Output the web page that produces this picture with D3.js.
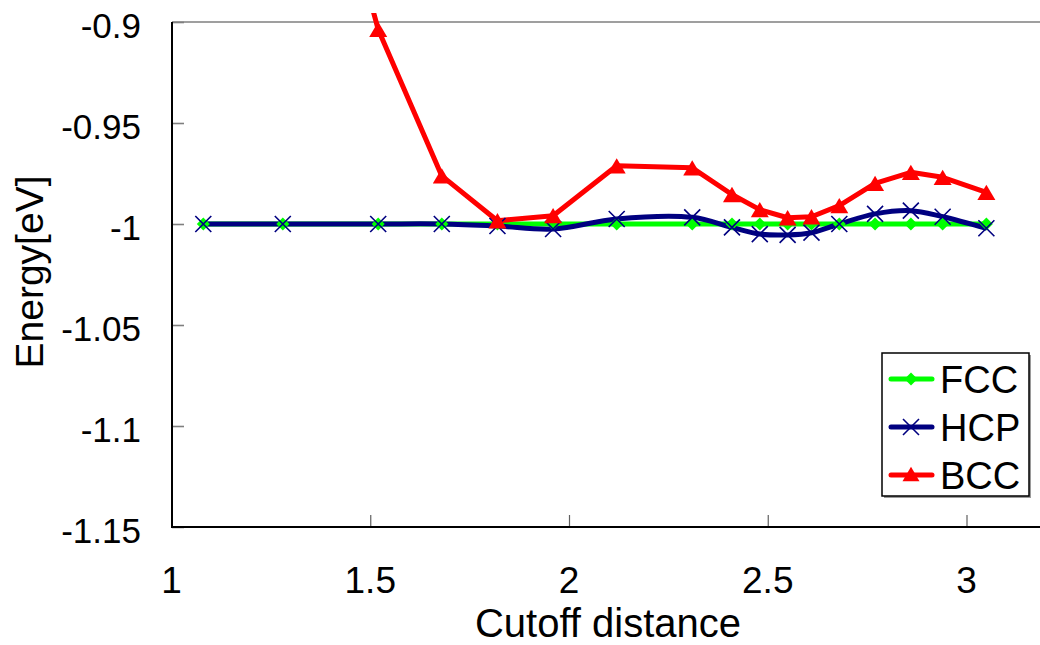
<!DOCTYPE html>
<html>
<head>
<meta charset="utf-8">
<script src="https://cdn.jsdelivr.net/npm/d3@7"></script>
<style>
  body { margin: 0; background: #fff; }
  text { font-family: "Liberation Sans", Arial, sans-serif; fill: #000; }
</style>
</head>
<body>
<div id="chart"></div>
<script>
const width = 1040;
const height = 645;

// data
const cutoff = [1.08, 1.28, 1.52, 1.68, 1.82, 1.96, 2.12, 2.31, 2.41, 2.48, 2.55, 2.61, 2.68, 2.77, 2.86, 2.94, 3.05];
const fcc = [-1, -1, -1, -1, -1, -1, -1, -1, -1, -1, -1, -1, -1, -1, -1, -1, -1];
const hcp = [-1, -1, -1, -1, -1.001, -1.0025, -0.9975, -0.9967, -1.0017, -1.005, -1.0054, -1.0043, -1.0, -0.995, -0.9934, -0.9964, -1.0021];
const bcc = [null, -0.73, -0.9037, -0.9762, -0.9984, -0.9959, -0.9712, -0.9722, -0.9854, -0.9929, -0.9969, -0.9964, -0.9909, -0.9799, -0.9744, -0.9769, -0.9843];
const xTicks = [1, 1.5, 2, 2.5, 3];
const yTicks = [-0.9, -0.95, -1, -1.05, -1.1, -1.15];
const seriesNames = ["FCC", "HCP", "BCC"];
const seriesColors = ["#00ff00", "#000080", "#ff0000"];

const x = d3.scaleLinear().domain([1, 3]).range([171.5, 966.5]);
const y = d3.scaleLinear().domain([-1.15, -0.9]).range([527, 22]);

const svg = d3.select("#chart")
            .append("svg")
            .attr("width", width)
            .attr("height", height)

svg.append("defs").append("clipPath")
    .attr("id", "plotclip")
  .append("rect")
    .attr("x", 171.5).attr("y", 13)
    .attr("width", width - 171.5).attr("height", 527 - 13)

// top gridline
svg.append("line")
    .attr("x1", 172).attr("x2", width)
    .attr("y1", y(-0.9)).attr("y2", y(-0.9))
    .attr("stroke", "#7f7f7f").attr("stroke-width", 1.6)

// y axis
const yAxis = svg.append("g")
    .attr("transform", "translate(172,0)")
    .call(d3.axisRight(y).tickValues(yTicks).tickSize(12).tickFormat(""))
yAxis.select(".domain").remove()
yAxis.selectAll(".tick line").attr("stroke", "#7f7f7f").attr("stroke-width", 1.6)

svg.append("g").selectAll("text")
    .data(yTicks)
    .join("text")
      .attr("x", 141)
      .attr("y", d => y(d) + 3)
      .attr("dy", "0.36em")
      .attr("text-anchor", "end")
      .style("font-size", "35px")
      .text(d => String(d))

// x axis
const xAxis = svg.append("g")
    .attr("transform", "translate(0,527)")
    .call(d3.axisTop(x).tickValues(xTicks).tickSize(12).tickFormat(""))
xAxis.select(".domain").remove()
xAxis.selectAll(".tick line").attr("stroke", "#606060").attr("stroke-width", 1.2)

svg.append("g").selectAll("text")
    .data(xTicks)
    .join("text")
      .attr("x", d => x(d))
      .attr("y", 593)
      .attr("text-anchor", "middle")
      .style("font-size", "37px")
      .text(d => d)

svg.append("line")
    .attr("x1", 172).attr("x2", 172).attr("y1", 22).attr("y2", 528)
    .attr("stroke", "#000").attr("stroke-width", 2)
svg.append("line")
    .attr("x1", 171).attr("x2", width).attr("y1", 527).attr("y2", 527)
    .attr("stroke", "#000").attr("stroke-width", 2)

// axis titles
svg.append("text")
    .attr("x", 608).attr("y", 637)
    .attr("text-anchor", "middle")
    .style("font-size", "40px")
    .text("Cutoff distance")

svg.append("text")
    .attr("transform", "translate(43,272) rotate(-90)")
    .attr("text-anchor", "middle")
    .style("font-size", "39px")
    .text("Energy[eV]")

// series
const allSeries = [fcc, hcp, bcc];
const plot = svg.append("g").attr("clip-path", "url(#plotclip)")

const straight = d3.line()
    .defined(d => d[1] !== null)
    .x(d => x(d[0])).y(d => y(d[1]))
const smooth = d3.line()
    .defined(d => d[1] !== null)
    .curve(d3.curveCatmullRom)
    .x(d => x(d[0])).y(d => y(d[1]))

allSeries.forEach(function(vals, i) {
    const pts = cutoff.map((c, j) => [c, vals[j]])
    plot.append("path")
        .attr("d", i === 1 ? smooth(pts) : straight(pts))
        .attr("fill", "none")
        .attr("stroke", seriesColors[i])
        .attr("stroke-width", 5)
        .attr("stroke-linejoin", "round")
})

function marker(g, kind, cx, cy, s) {
    if (kind === 0) {
        g.append("path")
            .attr("d", `M${cx},${cy - s}L${cx + s},${cy}L${cx},${cy + s}L${cx - s},${cy}Z`)
            .attr("fill", seriesColors[0])
    } else if (kind === 1) {
        g.append("path")
            .attr("d", `M${cx - s},${cy - s}L${cx + s},${cy + s}M${cx - s},${cy + s}L${cx + s},${cy - s}`)
            .attr("stroke", seriesColors[1])
            .attr("stroke-width", 1.6)
    } else {
        g.append("path")
            .attr("d", `M${cx},${cy - s * 0.85}L${cx + s},${cy + s * 0.85}L${cx - s},${cy + s * 0.85}Z`)
            .attr("fill", seriesColors[2])
    }
}

allSeries.forEach(function(vals, i) {
    const g = plot.append("g")
    cutoff.forEach(function(c, j) {
        if (vals[j] === null) return
        const size = i === 0 ? 6.5 : (i === 1 ? 8 : 9)
        marker(g, i, x(c), y(vals[j]), size)
    })
})

// legend
const legend = svg.append("g")
legend.append("rect")
    .attr("x", 884).attr("y", 355).attr("width", 147).attr("height", 143)
    .attr("fill", "#9a9a9a")
legend.append("rect")
    .attr("x", 882).attr("y", 353).attr("width", 147).attr("height", 143)
    .attr("fill", "#fff").attr("stroke", "#000").attr("stroke-width", 1.5)

seriesNames.forEach(function(name, i) {
    const ly = 379 + i * 48
    legend.append("line")
        .attr("x1", 891).attr("x2", 932).attr("y1", ly).attr("y2", ly)
        .attr("stroke", seriesColors[i]).attr("stroke-width", 5)
        .attr("stroke-linecap", "round")
    marker(legend, i, 911, ly + (i === 2 ? -1 : 0), i === 0 ? 6.5 : (i === 1 ? 8 : 8.5))
    legend.append("text")
        .attr("x", 940).attr("y", ly)
        .attr("dy", "0.36em")
        .style("font-size", "38px")
        .text(name)
})
</script>
</body>
</html>
